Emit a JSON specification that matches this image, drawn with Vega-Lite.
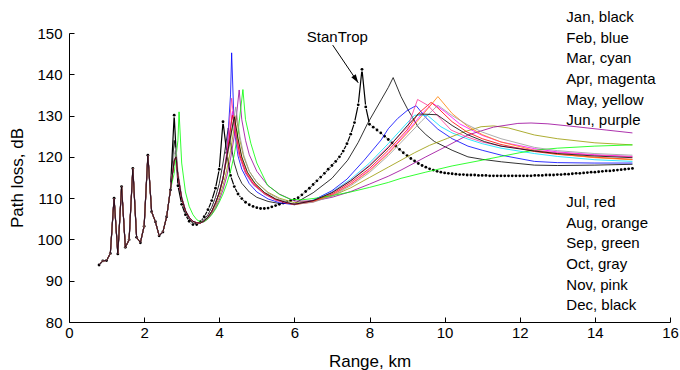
{
"$schema": "https://vega.github.io/schema/vega-lite/v6.json",
"width": 601, "height": 289,
"autosize": "none",
"padding": {"left": 69, "top": 33, "right": 10, "bottom": 48},
"background": "white",
"config": {"view": {"stroke": null}, "font": "Liberation Sans",
 "axis": {"grid": false, "domainColor": "black", "tickColor": "black", "labelColor": "black", "titleColor": "black", "labelFontSize": 15, "titleFontSize": 17, "titleFontWeight": "normal", "labelOverlap": false, "labelFlush": false}},
"datasets": {
"st": [
{"x":0.8,"y":93.8},{"x":0.9,"y":94.8},{"x":1.0,"y":94.9},{"x":1.1,"y":96.6},{"x":1.2,"y":110.0},{"x":1.3,"y":96.5},{"x":1.4,"y":112.8},{"x":1.5,"y":98.1},{"x":1.6,"y":99.9},{"x":1.7,"y":117.2},{"x":1.8,"y":100.5},{"x":1.9,"y":99.2},{"x":2.0,"y":103.2},{"x":2.1,"y":120.4},{"x":2.2,"y":106.7},{"x":2.3,"y":104.3},{"x":2.4,"y":100.9},{"x":2.5,"y":101.8},{"x":2.6,"y":105.5},{"x":2.7,"y":112.0},
{"x":2.8,"y":130.1},{"x":2.9,"y":113.0},{"x":3.0,"y":108.5},{"x":3.1,"y":106.0},{"x":3.2,"y":104.4},{"x":3.3,"y":103.6},{"x":3.4,"y":103.6},{"x":3.5,"y":104.3},{"x":3.6,"y":105.5},{"x":3.7,"y":107.2},{"x":3.8,"y":109.4},{"x":3.9,"y":112.4},{"x":4.0,"y":117.0},{"x":4.1,"y":128.5},{"x":4.2,"y":121.0},{"x":4.3,"y":115.5},{"x":4.4,"y":112.8},{"x":4.5,"y":111.0},{"x":4.6,"y":109.9},{"x":4.7,"y":109.0},{"x":4.8,"y":108.4},{"x":4.9,"y":108.0},{"x":5.0,"y":107.7},{"x":5.1,"y":107.5},{"x":5.2,"y":107.5},{"x":5.3,"y":107.6},{"x":5.4,"y":107.9},{"x":5.5,"y":108.2},{"x":5.6,"y":108.5},{"x":5.7,"y":108.8},{"x":5.8,"y":109.1},{"x":5.9,"y":109.4},{"x":6.0,"y":109.7},{"x":6.1,"y":110.1},{"x":6.2,"y":110.8},{"x":6.3,"y":111.6},{"x":6.4,"y":112.4},{"x":6.5,"y":113.3},{"x":6.6,"y":114.2},{"x":6.7,"y":115.1},{"x":6.8,"y":116.0},{"x":6.9,"y":117.0},{"x":7.0,"y":117.9},{"x":7.1,"y":118.9},{"x":7.2,"y":120.0},{"x":7.3,"y":121.4},{"x":7.4,"y":123.2},{"x":7.5,"y":125.5},{"x":7.6,"y":128.3},{"x":7.7,"y":132.6},{"x":7.8,"y":141.2},{"x":7.9,"y":132.1},{"x":8.0,"y":127.9},{"x":8.1,"y":127.2},{"x":8.2,"y":126.5},{"x":8.3,"y":125.8},{"x":8.4,"y":125.0},{"x":8.5,"y":124.2},{"x":8.6,"y":123.4},{"x":8.7,"y":122.6},{"x":8.8,"y":121.8},{"x":8.9,"y":121.0},{"x":9.0,"y":120.3},{"x":9.1,"y":119.6},{"x":9.2,"y":119.0},{"x":9.3,"y":118.4},{"x":9.4,"y":117.9},{"x":9.5,"y":117.5},{"x":9.6,"y":117.1},{"x":9.7,"y":116.8},{"x":9.8,"y":116.5},{"x":9.9,"y":116.3},{"x":10.0,"y":116.1},{"x":10.1,"y":116.0},{"x":10.2,"y":115.9},{"x":10.3,"y":115.8},{"x":10.4,"y":115.7},{"x":10.5,"y":115.7},{"x":10.6,"y":115.6},{"x":10.7,"y":115.6},{"x":10.8,"y":115.6},{"x":10.9,"y":115.5},{"x":11.0,"y":115.5},{"x":11.1,"y":115.5},{"x":11.2,"y":115.4},{"x":11.3,"y":115.4},{"x":11.4,"y":115.4},{"x":11.5,"y":115.4},{"x":11.6,"y":115.4},{"x":11.7,"y":115.4},{"x":11.8,"y":115.4},{"x":11.9,"y":115.4},{"x":12.0,"y":115.4},{"x":12.1,"y":115.4},{"x":12.2,"y":115.4},{"x":12.3,"y":115.4},{"x":12.4,"y":115.5},{"x":12.5,"y":115.5},{"x":12.6,"y":115.5},{"x":12.7,"y":115.6},{"x":12.8,"y":115.6},{"x":12.9,"y":115.6},{"x":13.0,"y":115.7},{"x":13.1,"y":115.7},{"x":13.2,"y":115.8},{"x":13.3,"y":115.8},{"x":13.4,"y":115.9},{"x":13.5,"y":116.0},{"x":13.6,"y":116.0},{"x":13.7,"y":116.1},{"x":13.8,"y":116.2},{"x":13.9,"y":116.3},{"x":14.0,"y":116.3},{"x":14.1,"y":116.4},{"x":14.2,"y":116.5},{"x":14.3,"y":116.6},{"x":14.4,"y":116.6},{"x":14.5,"y":116.7},{"x":14.6,"y":116.8},{"x":14.7,"y":116.9},{"x":14.8,"y":117.0},{"x":14.9,"y":117.1},{"x":15.0,"y":117.2}
],
"months": [
{"s":"Jan","x":0.8,"y":93.8},{"s":"Jan","x":0.9,"y":94.8},{"s":"Jan","x":1.0,"y":94.9},{"s":"Jan","x":1.1,"y":96.6},{"s":"Jan","x":1.2,"y":110.0},{"s":"Jan","x":1.3,"y":96.5},{"s":"Jan","x":1.4,"y":112.8},{"s":"Jan","x":1.5,"y":98.1},{"s":"Jan","x":1.6,"y":99.9},{"s":"Jan","x":1.7,"y":117.2},{"s":"Jan","x":1.8,"y":100.5},{"s":"Jan","x":1.9,"y":99.2},{"s":"Jan","x":2.0,"y":103.2},{"s":"Jan","x":2.1,"y":120.4},{"s":"Jan","x":2.2,"y":106.7},{"s":"Jan","x":2.3,"y":104.3},{"s":"Jan","x":2.4,"y":100.9},{"s":"Jan","x":2.5,"y":101.8},{"s":"Jan","x":2.6,"y":105.5},{"s":"Jan","x":2.7,"y":112.0},
{"s":"Jan","x":2.8,"y":124.0},{"s":"Jan","x":2.85,"y":121.0},{"s":"Jan","x":2.9,"y":114.5},{"s":"Jan","x":3.0,"y":109.5},{"s":"Jan","x":3.1,"y":106.6},{"s":"Jan","x":3.2,"y":104.9},{"s":"Jan","x":3.3,"y":104.0},{"s":"Jan","x":3.4,"y":103.8},{"s":"Jan","x":3.5,"y":104.1},{"s":"Jan","x":3.6,"y":104.8},{"s":"Jan","x":3.7,"y":106.0},{"s":"Jan","x":3.8,"y":107.8},{"s":"Jan","x":3.9,"y":110.2},{"s":"Jan","x":4.0,"y":113.5},{"s":"Jan","x":4.1,"y":118.5},{"s":"Jan","x":4.24,"y":127.0},{"s":"Jan","x":4.3,"y":123.5},{"s":"Jan","x":4.4,"y":118.5},{"s":"Jan","x":4.5,"y":115.5},{"s":"Jan","x":4.6,"y":113.6},{"s":"Jan","x":4.8,"y":111.5},{"s":"Jan","x":5.0,"y":110.2},{"s":"Jan","x":5.3,"y":109.2},{"s":"Jan","x":5.6,"y":108.7},{"s":"Jan","x":6.0,"y":108.7},{"s":"Jan","x":6.5,"y":111.3},{"s":"Jan","x":7.0,"y":114.8},{"s":"Jan","x":7.42,"y":119.2},{"s":"Jan","x":7.7,"y":123.5},{"s":"Jan","x":7.95,"y":128.1},{"s":"Jan","x":8.31,"y":133.8},{"s":"Jan","x":8.5,"y":136.8},{"s":"Jan","x":8.63,"y":139.2},{"s":"Jan","x":8.84,"y":134.6},{"s":"Jan","x":9.0,"y":131.8},{"s":"Jan","x":9.29,"y":127.3},{"s":"Jan","x":9.5,"y":125.4},{"s":"Jan","x":9.73,"y":123.7},{"s":"Jan","x":10.2,"y":121.6},{"s":"Jan","x":10.62,"y":120.0},{"s":"Jan","x":11.0,"y":119.4},{"s":"Jan","x":11.51,"y":118.8},{"s":"Jan","x":12.39,"y":118.0},{"s":"Jan","x":13.0,"y":117.9},{"s":"Jan","x":14.0,"y":118.0},{"s":"Jan","x":15.0,"y":118.2},
{"s":"Feb","x":0.8,"y":93.8},{"s":"Feb","x":0.9,"y":94.8},{"s":"Feb","x":1.0,"y":94.9},{"s":"Feb","x":1.1,"y":96.6},{"s":"Feb","x":1.2,"y":110.0},{"s":"Feb","x":1.3,"y":96.5},{"s":"Feb","x":1.4,"y":112.8},{"s":"Feb","x":1.5,"y":98.1},{"s":"Feb","x":1.6,"y":99.9},{"s":"Feb","x":1.7,"y":117.2},{"s":"Feb","x":1.8,"y":100.5},{"s":"Feb","x":1.9,"y":99.2},{"s":"Feb","x":2.0,"y":103.2},{"s":"Feb","x":2.1,"y":120.4},{"s":"Feb","x":2.2,"y":106.7},{"s":"Feb","x":2.3,"y":104.3},{"s":"Feb","x":2.4,"y":100.9},{"s":"Feb","x":2.5,"y":101.8},{"s":"Feb","x":2.6,"y":105.5},{"s":"Feb","x":2.7,"y":112.0},
{"s":"Feb","x":2.8,"y":119.0},{"s":"Feb","x":2.85,"y":120.0},{"s":"Feb","x":2.9,"y":115.5},{"s":"Feb","x":3.0,"y":110.0},{"s":"Feb","x":3.1,"y":107.0},{"s":"Feb","x":3.2,"y":105.3},{"s":"Feb","x":3.3,"y":104.4},{"s":"Feb","x":3.4,"y":104.0},{"s":"Feb","x":3.5,"y":104.0},{"s":"Feb","x":3.6,"y":104.5},{"s":"Feb","x":3.7,"y":105.4},{"s":"Feb","x":3.8,"y":106.8},{"s":"Feb","x":3.9,"y":108.8},{"s":"Feb","x":4.0,"y":111.3},{"s":"Feb","x":4.1,"y":114.8},{"s":"Feb","x":4.2,"y":120.5},{"s":"Feb","x":4.3,"y":135.0},{"s":"Feb","x":4.33,"y":145.2},{"s":"Feb","x":4.4,"y":126.5},{"s":"Feb","x":4.5,"y":120.2},{"s":"Feb","x":4.6,"y":117.0},{"s":"Feb","x":4.8,"y":113.5},{"s":"Feb","x":5.0,"y":111.5},{"s":"Feb","x":5.3,"y":109.8},{"s":"Feb","x":5.6,"y":108.9},{"s":"Feb","x":6.0,"y":108.4},{"s":"Feb","x":6.5,"y":109.5},{"s":"Feb","x":7.0,"y":111.8},{"s":"Feb","x":7.4,"y":114.6},{"s":"Feb","x":7.86,"y":119.2},{"s":"Feb","x":8.31,"y":124.1},{"s":"Feb","x":8.5,"y":126.8},{"s":"Feb","x":8.75,"y":129.3},{"s":"Feb","x":9.0,"y":131.2},{"s":"Feb","x":9.24,"y":132.4},{"s":"Feb","x":9.5,"y":129.5},{"s":"Feb","x":9.82,"y":126.7},{"s":"Feb","x":10.2,"y":124.4},{"s":"Feb","x":10.62,"y":122.6},{"s":"Feb","x":11.0,"y":121.6},{"s":"Feb","x":11.51,"y":120.4},{"s":"Feb","x":12.39,"y":118.9},{"s":"Feb","x":13.0,"y":118.6},{"s":"Feb","x":14.0,"y":118.5},{"s":"Feb","x":15.0,"y":118.5},
{"s":"Mar","x":0.8,"y":93.8},{"s":"Mar","x":0.9,"y":94.8},{"s":"Mar","x":1.0,"y":94.9},{"s":"Mar","x":1.1,"y":96.6},{"s":"Mar","x":1.2,"y":110.0},{"s":"Mar","x":1.3,"y":96.5},{"s":"Mar","x":1.4,"y":112.8},{"s":"Mar","x":1.5,"y":98.1},{"s":"Mar","x":1.6,"y":99.9},{"s":"Mar","x":1.7,"y":117.2},{"s":"Mar","x":1.8,"y":100.5},{"s":"Mar","x":1.9,"y":99.2},{"s":"Mar","x":2.0,"y":103.2},{"s":"Mar","x":2.1,"y":120.4},{"s":"Mar","x":2.2,"y":106.7},{"s":"Mar","x":2.3,"y":104.3},{"s":"Mar","x":2.4,"y":100.9},{"s":"Mar","x":2.5,"y":101.8},{"s":"Mar","x":2.6,"y":105.5},{"s":"Mar","x":2.7,"y":112.0},
{"s":"Mar","x":2.8,"y":119.0},{"s":"Mar","x":2.85,"y":120.0},{"s":"Mar","x":2.9,"y":115.5},{"s":"Mar","x":3.0,"y":110.0},{"s":"Mar","x":3.1,"y":107.0},{"s":"Mar","x":3.2,"y":105.3},{"s":"Mar","x":3.3,"y":104.4},{"s":"Mar","x":3.4,"y":104.0},{"s":"Mar","x":3.5,"y":104.0},{"s":"Mar","x":3.6,"y":104.5},{"s":"Mar","x":3.7,"y":105.4},{"s":"Mar","x":3.8,"y":106.8},{"s":"Mar","x":3.9,"y":108.8},{"s":"Mar","x":4.0,"y":111.3},{"s":"Mar","x":4.1,"y":114.8},{"s":"Mar","x":4.2,"y":120.0},{"s":"Mar","x":4.35,"y":130.5},{"s":"Mar","x":4.45,"y":125.0},{"s":"Mar","x":4.55,"y":120.0},{"s":"Mar","x":4.7,"y":116.0},{"s":"Mar","x":4.9,"y":113.3},{"s":"Mar","x":5.2,"y":111.0},{"s":"Mar","x":5.5,"y":109.6},{"s":"Mar","x":5.8,"y":108.9},{"s":"Mar","x":6.0,"y":108.6},{"s":"Mar","x":6.5,"y":109.5},{"s":"Mar","x":7.0,"y":111.5},{"s":"Mar","x":7.5,"y":114.6},{"s":"Mar","x":8.0,"y":118.5},{"s":"Mar","x":8.5,"y":123.2},{"s":"Mar","x":9.0,"y":128.2},{"s":"Mar","x":9.2,"y":130.1},{"s":"Mar","x":9.55,"y":130.0},{"s":"Mar","x":9.9,"y":127.3},{"s":"Mar","x":10.2,"y":125.8},{"s":"Mar","x":10.62,"y":124.3},{"s":"Mar","x":11.0,"y":123.2},{"s":"Mar","x":11.5,"y":122.1},{"s":"Mar","x":12.39,"y":120.8},{"s":"Mar","x":13.0,"y":120.1},{"s":"Mar","x":14.0,"y":119.3},{"s":"Mar","x":15.0,"y":118.9},
{"s":"Apr","x":0.8,"y":93.8},{"s":"Apr","x":0.9,"y":94.8},{"s":"Apr","x":1.0,"y":94.9},{"s":"Apr","x":1.1,"y":96.6},{"s":"Apr","x":1.2,"y":110.0},{"s":"Apr","x":1.3,"y":96.5},{"s":"Apr","x":1.4,"y":112.8},{"s":"Apr","x":1.5,"y":98.1},{"s":"Apr","x":1.6,"y":99.9},{"s":"Apr","x":1.7,"y":117.2},{"s":"Apr","x":1.8,"y":100.5},{"s":"Apr","x":1.9,"y":99.2},{"s":"Apr","x":2.0,"y":103.2},{"s":"Apr","x":2.1,"y":120.4},{"s":"Apr","x":2.2,"y":106.7},{"s":"Apr","x":2.3,"y":104.3},{"s":"Apr","x":2.4,"y":100.9},{"s":"Apr","x":2.5,"y":101.8},{"s":"Apr","x":2.6,"y":105.5},{"s":"Apr","x":2.7,"y":112.0},
{"s":"Apr","x":2.8,"y":119.0},{"s":"Apr","x":2.85,"y":120.0},{"s":"Apr","x":2.9,"y":115.5},{"s":"Apr","x":3.0,"y":110.0},{"s":"Apr","x":3.1,"y":107.0},{"s":"Apr","x":3.2,"y":105.3},{"s":"Apr","x":3.3,"y":104.4},{"s":"Apr","x":3.4,"y":104.0},{"s":"Apr","x":3.5,"y":104.0},{"s":"Apr","x":3.6,"y":104.5},{"s":"Apr","x":3.7,"y":105.4},{"s":"Apr","x":3.8,"y":106.8},{"s":"Apr","x":3.9,"y":108.8},{"s":"Apr","x":4.0,"y":111.3},{"s":"Apr","x":4.1,"y":114.8},{"s":"Apr","x":4.2,"y":120.0},{"s":"Apr","x":4.35,"y":131.0},{"s":"Apr","x":4.45,"y":125.5},{"s":"Apr","x":4.55,"y":120.5},{"s":"Apr","x":4.7,"y":116.5},{"s":"Apr","x":4.9,"y":113.6},{"s":"Apr","x":5.2,"y":111.2},{"s":"Apr","x":5.5,"y":109.7},{"s":"Apr","x":5.8,"y":108.9},{"s":"Apr","x":6.0,"y":108.5},{"s":"Apr","x":6.5,"y":109.1},{"s":"Apr","x":7.0,"y":110.8},{"s":"Apr","x":7.5,"y":113.4},{"s":"Apr","x":8.0,"y":116.8},{"s":"Apr","x":8.5,"y":121.0},{"s":"Apr","x":9.0,"y":126.0},{"s":"Apr","x":9.4,"y":130.5},{"s":"Apr","x":9.68,"y":133.0},{"s":"Apr","x":10.0,"y":131.0},{"s":"Apr","x":10.4,"y":128.0},{"s":"Apr","x":11.0,"y":125.2},{"s":"Apr","x":11.5,"y":123.6},{"s":"Apr","x":12.39,"y":122.0},{"s":"Apr","x":13.0,"y":121.2},{"s":"Apr","x":14.0,"y":120.5},{"s":"Apr","x":15.0,"y":120.1},
{"s":"May","x":0.8,"y":93.8},{"s":"May","x":0.9,"y":94.8},{"s":"May","x":1.0,"y":94.9},{"s":"May","x":1.1,"y":96.6},{"s":"May","x":1.2,"y":110.0},{"s":"May","x":1.3,"y":96.5},{"s":"May","x":1.4,"y":112.8},{"s":"May","x":1.5,"y":98.1},{"s":"May","x":1.6,"y":99.9},{"s":"May","x":1.7,"y":117.2},{"s":"May","x":1.8,"y":100.5},{"s":"May","x":1.9,"y":99.2},{"s":"May","x":2.0,"y":103.2},{"s":"May","x":2.1,"y":120.4},{"s":"May","x":2.2,"y":106.7},{"s":"May","x":2.3,"y":104.3},{"s":"May","x":2.4,"y":100.9},{"s":"May","x":2.5,"y":101.8},{"s":"May","x":2.6,"y":105.5},{"s":"May","x":2.7,"y":112.0},
{"s":"May","x":2.8,"y":119.0},{"s":"May","x":2.85,"y":120.0},{"s":"May","x":2.9,"y":115.5},{"s":"May","x":3.0,"y":110.0},{"s":"May","x":3.1,"y":107.0},{"s":"May","x":3.2,"y":105.3},{"s":"May","x":3.3,"y":104.4},{"s":"May","x":3.4,"y":104.0},{"s":"May","x":3.5,"y":104.0},{"s":"May","x":3.6,"y":104.4},{"s":"May","x":3.7,"y":105.2},{"s":"May","x":3.8,"y":106.4},{"s":"May","x":3.9,"y":108.1},{"s":"May","x":4.0,"y":110.2},{"s":"May","x":4.1,"y":113.0},{"s":"May","x":4.2,"y":116.8},{"s":"May","x":4.3,"y":121.5},{"s":"May","x":4.45,"y":130.0},{"s":"May","x":4.55,"y":124.0},{"s":"May","x":4.65,"y":120.0},{"s":"May","x":4.8,"y":116.5},{"s":"May","x":5.0,"y":113.8},{"s":"May","x":5.3,"y":111.4},{"s":"May","x":5.6,"y":110.0},{"s":"May","x":6.0,"y":108.9},{"s":"May","x":6.5,"y":109.4},{"s":"May","x":7.0,"y":110.5},{"s":"May","x":7.5,"y":112.5},{"s":"May","x":8.0,"y":115.0},{"s":"May","x":8.5,"y":117.5},{"s":"May","x":8.84,"y":119.2},{"s":"May","x":9.2,"y":121.0},{"s":"May","x":9.6,"y":122.8},{"s":"May","x":10.08,"y":124.5},{"s":"May","x":10.5,"y":126.0},{"s":"May","x":10.97,"y":127.3},{"s":"May","x":11.3,"y":127.5},{"s":"May","x":11.7,"y":127.0},{"s":"May","x":12.39,"y":125.3},{"s":"May","x":13.0,"y":124.4},{"s":"May","x":14.0,"y":123.4},{"s":"May","x":15.0,"y":122.9},
{"s":"Jun","x":0.8,"y":93.8},{"s":"Jun","x":0.9,"y":94.8},{"s":"Jun","x":1.0,"y":94.9},{"s":"Jun","x":1.1,"y":96.6},{"s":"Jun","x":1.2,"y":110.0},{"s":"Jun","x":1.3,"y":96.5},{"s":"Jun","x":1.4,"y":112.8},{"s":"Jun","x":1.5,"y":98.1},{"s":"Jun","x":1.6,"y":99.9},{"s":"Jun","x":1.7,"y":117.2},{"s":"Jun","x":1.8,"y":100.5},{"s":"Jun","x":1.9,"y":99.2},{"s":"Jun","x":2.0,"y":103.2},{"s":"Jun","x":2.1,"y":120.4},{"s":"Jun","x":2.2,"y":106.7},{"s":"Jun","x":2.3,"y":104.3},{"s":"Jun","x":2.4,"y":100.9},{"s":"Jun","x":2.5,"y":101.8},{"s":"Jun","x":2.6,"y":105.5},{"s":"Jun","x":2.7,"y":112.0},
{"s":"Jun","x":2.8,"y":119.0},{"s":"Jun","x":2.85,"y":120.0},{"s":"Jun","x":2.9,"y":115.5},{"s":"Jun","x":3.0,"y":110.0},{"s":"Jun","x":3.1,"y":107.0},{"s":"Jun","x":3.2,"y":105.3},{"s":"Jun","x":3.3,"y":104.4},{"s":"Jun","x":3.4,"y":104.0},{"s":"Jun","x":3.5,"y":104.0},{"s":"Jun","x":3.6,"y":104.3},{"s":"Jun","x":3.7,"y":105.0},{"s":"Jun","x":3.8,"y":106.1},{"s":"Jun","x":3.9,"y":107.6},{"s":"Jun","x":4.0,"y":109.5},{"s":"Jun","x":4.1,"y":112.0},{"s":"Jun","x":4.2,"y":115.3},{"s":"Jun","x":4.3,"y":119.5},{"s":"Jun","x":4.4,"y":125.0},{"s":"Jun","x":4.53,"y":136.2},{"s":"Jun","x":4.6,"y":129.0},{"s":"Jun","x":4.7,"y":124.0},{"s":"Jun","x":4.8,"y":120.5},{"s":"Jun","x":5.0,"y":116.5},{"s":"Jun","x":5.3,"y":113.0},{"s":"Jun","x":5.6,"y":111.0},{"s":"Jun","x":6.0,"y":109.3},{"s":"Jun","x":6.5,"y":109.3},{"s":"Jun","x":7.0,"y":110.2},{"s":"Jun","x":7.5,"y":111.6},{"s":"Jun","x":8.0,"y":113.4},{"s":"Jun","x":8.5,"y":115.3},{"s":"Jun","x":8.84,"y":116.8},{"s":"Jun","x":9.5,"y":120.0},{"s":"Jun","x":10.08,"y":122.7},{"s":"Jun","x":10.62,"y":125.3},{"s":"Jun","x":11.3,"y":127.2},{"s":"Jun","x":11.95,"y":128.1},{"s":"Jun","x":12.3,"y":128.2},{"s":"Jun","x":12.75,"y":128.0},{"s":"Jun","x":13.5,"y":127.3},{"s":"Jun","x":14.3,"y":126.5},{"s":"Jun","x":15.0,"y":125.8},
{"s":"Jul","x":0.8,"y":93.8},{"s":"Jul","x":0.9,"y":94.8},{"s":"Jul","x":1.0,"y":94.9},{"s":"Jul","x":1.1,"y":96.6},{"s":"Jul","x":1.2,"y":110.0},{"s":"Jul","x":1.3,"y":96.5},{"s":"Jul","x":1.4,"y":112.8},{"s":"Jul","x":1.5,"y":98.1},{"s":"Jul","x":1.6,"y":99.9},{"s":"Jul","x":1.7,"y":117.2},{"s":"Jul","x":1.8,"y":100.5},{"s":"Jul","x":1.9,"y":99.2},{"s":"Jul","x":2.0,"y":103.2},{"s":"Jul","x":2.1,"y":120.4},{"s":"Jul","x":2.2,"y":106.7},{"s":"Jul","x":2.3,"y":104.3},{"s":"Jul","x":2.4,"y":100.9},{"s":"Jul","x":2.5,"y":101.8},{"s":"Jul","x":2.6,"y":105.5},{"s":"Jul","x":2.7,"y":112.0},
{"s":"Jul","x":2.8,"y":119.0},{"s":"Jul","x":2.85,"y":120.0},{"s":"Jul","x":2.9,"y":115.5},{"s":"Jul","x":3.0,"y":110.0},{"s":"Jul","x":3.1,"y":107.0},{"s":"Jul","x":3.2,"y":105.3},{"s":"Jul","x":3.3,"y":104.4},{"s":"Jul","x":3.4,"y":104.0},{"s":"Jul","x":3.5,"y":104.0},{"s":"Jul","x":3.6,"y":104.5},{"s":"Jul","x":3.7,"y":105.4},{"s":"Jul","x":3.8,"y":106.8},{"s":"Jul","x":3.9,"y":108.8},{"s":"Jul","x":4.0,"y":111.3},{"s":"Jul","x":4.1,"y":114.8},{"s":"Jul","x":4.2,"y":120.0},{"s":"Jul","x":4.35,"y":130.1},{"s":"Jul","x":4.45,"y":125.0},{"s":"Jul","x":4.55,"y":120.3},{"s":"Jul","x":4.7,"y":116.3},{"s":"Jul","x":4.9,"y":113.5},{"s":"Jul","x":5.2,"y":111.1},{"s":"Jul","x":5.5,"y":109.6},{"s":"Jul","x":5.8,"y":108.8},{"s":"Jul","x":6.0,"y":108.5},{"s":"Jul","x":6.5,"y":109.3},{"s":"Jul","x":7.0,"y":111.0},{"s":"Jul","x":7.5,"y":113.8},{"s":"Jul","x":8.0,"y":117.2},{"s":"Jul","x":8.5,"y":121.6},{"s":"Jul","x":9.0,"y":126.5},{"s":"Jul","x":9.3,"y":130.5},{"s":"Jul","x":9.64,"y":133.2},{"s":"Jul","x":9.8,"y":132.0},{"s":"Jul","x":10.2,"y":128.5},{"s":"Jul","x":10.6,"y":126.0},{"s":"Jul","x":11.0,"y":124.4},{"s":"Jul","x":11.5,"y":123.0},{"s":"Jul","x":12.39,"y":121.3},{"s":"Jul","x":13.0,"y":120.6},{"s":"Jul","x":14.0,"y":119.9},{"s":"Jul","x":15.0,"y":119.4},
{"s":"Aug","x":0.8,"y":93.8},{"s":"Aug","x":0.9,"y":94.8},{"s":"Aug","x":1.0,"y":94.9},{"s":"Aug","x":1.1,"y":96.6},{"s":"Aug","x":1.2,"y":110.0},{"s":"Aug","x":1.3,"y":96.5},{"s":"Aug","x":1.4,"y":112.8},{"s":"Aug","x":1.5,"y":98.1},{"s":"Aug","x":1.6,"y":99.9},{"s":"Aug","x":1.7,"y":117.2},{"s":"Aug","x":1.8,"y":100.5},{"s":"Aug","x":1.9,"y":99.2},{"s":"Aug","x":2.0,"y":103.2},{"s":"Aug","x":2.1,"y":120.4},{"s":"Aug","x":2.2,"y":106.7},{"s":"Aug","x":2.3,"y":104.3},{"s":"Aug","x":2.4,"y":100.9},{"s":"Aug","x":2.5,"y":101.8},{"s":"Aug","x":2.6,"y":105.5},{"s":"Aug","x":2.7,"y":112.0},
{"s":"Aug","x":2.8,"y":119.0},{"s":"Aug","x":2.85,"y":120.0},{"s":"Aug","x":2.9,"y":115.5},{"s":"Aug","x":3.0,"y":110.0},{"s":"Aug","x":3.1,"y":107.0},{"s":"Aug","x":3.2,"y":105.3},{"s":"Aug","x":3.3,"y":104.4},{"s":"Aug","x":3.4,"y":104.0},{"s":"Aug","x":3.5,"y":104.0},{"s":"Aug","x":3.6,"y":104.5},{"s":"Aug","x":3.7,"y":105.4},{"s":"Aug","x":3.8,"y":106.8},{"s":"Aug","x":3.9,"y":108.8},{"s":"Aug","x":4.0,"y":111.3},{"s":"Aug","x":4.1,"y":114.8},{"s":"Aug","x":4.2,"y":119.5},{"s":"Aug","x":4.4,"y":130.0},{"s":"Aug","x":4.5,"y":124.0},{"s":"Aug","x":4.6,"y":119.5},{"s":"Aug","x":4.75,"y":116.0},{"s":"Aug","x":4.95,"y":113.4},{"s":"Aug","x":5.2,"y":111.3},{"s":"Aug","x":5.5,"y":109.8},{"s":"Aug","x":5.8,"y":108.9},{"s":"Aug","x":6.0,"y":108.4},{"s":"Aug","x":6.5,"y":109.1},{"s":"Aug","x":7.0,"y":110.7},{"s":"Aug","x":7.5,"y":113.3},{"s":"Aug","x":8.0,"y":116.6},{"s":"Aug","x":8.5,"y":120.8},{"s":"Aug","x":9.0,"y":125.7},{"s":"Aug","x":9.4,"y":130.0},{"s":"Aug","x":9.82,"y":134.6},{"s":"Aug","x":10.2,"y":130.5},{"s":"Aug","x":10.6,"y":127.5},{"s":"Aug","x":11.0,"y":125.4},{"s":"Aug","x":11.5,"y":123.6},{"s":"Aug","x":12.39,"y":121.6},{"s":"Aug","x":13.0,"y":120.7},{"s":"Aug","x":14.0,"y":119.8},{"s":"Aug","x":15.0,"y":119.3},
{"s":"Sep","x":0.8,"y":93.8},{"s":"Sep","x":0.9,"y":94.8},{"s":"Sep","x":1.0,"y":94.9},{"s":"Sep","x":1.1,"y":96.6},{"s":"Sep","x":1.2,"y":110.0},{"s":"Sep","x":1.3,"y":96.5},{"s":"Sep","x":1.4,"y":112.8},{"s":"Sep","x":1.5,"y":98.1},{"s":"Sep","x":1.6,"y":99.9},{"s":"Sep","x":1.7,"y":117.2},{"s":"Sep","x":1.8,"y":100.5},{"s":"Sep","x":1.9,"y":99.2},{"s":"Sep","x":2.0,"y":103.2},{"s":"Sep","x":2.1,"y":120.4},{"s":"Sep","x":2.2,"y":106.7},{"s":"Sep","x":2.3,"y":104.3},{"s":"Sep","x":2.4,"y":100.9},{"s":"Sep","x":2.5,"y":101.8},{"s":"Sep","x":2.6,"y":105.5},{"s":"Sep","x":2.7,"y":112.0},
{"s":"Sep","x":2.8,"y":116.0},{"s":"Sep","x":2.9,"y":124.0},{"s":"Sep","x":2.93,"y":130.9},{"s":"Sep","x":3.0,"y":118.5},{"s":"Sep","x":3.1,"y":111.5},{"s":"Sep","x":3.2,"y":108.0},{"s":"Sep","x":3.3,"y":106.0},{"s":"Sep","x":3.4,"y":104.8},{"s":"Sep","x":3.5,"y":104.2},{"s":"Sep","x":3.6,"y":104.3},{"s":"Sep","x":3.7,"y":105.0},{"s":"Sep","x":3.8,"y":106.0},{"s":"Sep","x":3.9,"y":107.3},{"s":"Sep","x":4.0,"y":109.0},{"s":"Sep","x":4.1,"y":111.0},{"s":"Sep","x":4.2,"y":113.5},{"s":"Sep","x":4.3,"y":116.5},{"s":"Sep","x":4.4,"y":120.5},{"s":"Sep","x":4.5,"y":126.0},{"s":"Sep","x":4.63,"y":136.3},{"s":"Sep","x":4.7,"y":129.0},{"s":"Sep","x":4.84,"y":123.3},{"s":"Sep","x":5.0,"y":118.5},{"s":"Sep","x":5.28,"y":113.2},{"s":"Sep","x":5.6,"y":110.9},{"s":"Sep","x":5.9,"y":109.7},{"s":"Sep","x":6.2,"y":109.6},{"s":"Sep","x":6.5,"y":109.9},{"s":"Sep","x":7.0,"y":110.6},{"s":"Sep","x":7.5,"y":111.5},{"s":"Sep","x":8.0,"y":112.6},{"s":"Sep","x":8.5,"y":113.8},{"s":"Sep","x":8.84,"y":114.8},{"s":"Sep","x":9.5,"y":116.3},{"s":"Sep","x":10.2,"y":117.8},{"s":"Sep","x":11.0,"y":119.2},{"s":"Sep","x":12.0,"y":121.0},{"s":"Sep","x":12.39,"y":121.6},{"s":"Sep","x":13.0,"y":122.1},{"s":"Sep","x":14.0,"y":122.6},{"s":"Sep","x":15.0,"y":122.9},
{"s":"Oct","x":0.8,"y":93.8},{"s":"Oct","x":0.9,"y":94.8},{"s":"Oct","x":1.0,"y":94.9},{"s":"Oct","x":1.1,"y":96.6},{"s":"Oct","x":1.2,"y":110.0},{"s":"Oct","x":1.3,"y":96.5},{"s":"Oct","x":1.4,"y":112.8},{"s":"Oct","x":1.5,"y":98.1},{"s":"Oct","x":1.6,"y":99.9},{"s":"Oct","x":1.7,"y":117.2},{"s":"Oct","x":1.8,"y":100.5},{"s":"Oct","x":1.9,"y":99.2},{"s":"Oct","x":2.0,"y":103.2},{"s":"Oct","x":2.1,"y":120.4},{"s":"Oct","x":2.2,"y":106.7},{"s":"Oct","x":2.3,"y":104.3},{"s":"Oct","x":2.4,"y":100.9},{"s":"Oct","x":2.5,"y":101.8},{"s":"Oct","x":2.6,"y":105.5},{"s":"Oct","x":2.7,"y":112.0},
{"s":"Oct","x":2.8,"y":120.5},{"s":"Oct","x":2.85,"y":122.3},{"s":"Oct","x":2.9,"y":116.5},{"s":"Oct","x":3.0,"y":110.5},{"s":"Oct","x":3.1,"y":107.2},{"s":"Oct","x":3.2,"y":105.4},{"s":"Oct","x":3.3,"y":104.4},{"s":"Oct","x":3.4,"y":104.0},{"s":"Oct","x":3.5,"y":104.0},{"s":"Oct","x":3.6,"y":104.5},{"s":"Oct","x":3.7,"y":105.4},{"s":"Oct","x":3.8,"y":106.8},{"s":"Oct","x":3.9,"y":108.8},{"s":"Oct","x":4.0,"y":111.3},{"s":"Oct","x":4.1,"y":114.8},{"s":"Oct","x":4.2,"y":119.5},{"s":"Oct","x":4.3,"y":124.0},{"s":"Oct","x":4.44,"y":132.1},{"s":"Oct","x":4.55,"y":125.0},{"s":"Oct","x":4.65,"y":120.5},{"s":"Oct","x":4.8,"y":116.5},{"s":"Oct","x":5.0,"y":113.8},{"s":"Oct","x":5.3,"y":111.2},{"s":"Oct","x":5.6,"y":109.8},{"s":"Oct","x":6.0,"y":108.5},{"s":"Oct","x":6.5,"y":109.0},{"s":"Oct","x":7.0,"y":110.5},{"s":"Oct","x":7.5,"y":113.0},{"s":"Oct","x":8.0,"y":116.2},{"s":"Oct","x":8.5,"y":120.3},{"s":"Oct","x":9.0,"y":125.0},{"s":"Oct","x":9.4,"y":128.8},{"s":"Oct","x":9.82,"y":132.5},{"s":"Oct","x":10.2,"y":130.0},{"s":"Oct","x":10.6,"y":127.8},{"s":"Oct","x":11.0,"y":126.0},{"s":"Oct","x":11.5,"y":124.4},{"s":"Oct","x":12.39,"y":122.3},{"s":"Oct","x":13.0,"y":121.5},{"s":"Oct","x":14.0,"y":120.8},{"s":"Oct","x":15.0,"y":120.4},
{"s":"Nov","x":0.8,"y":93.8},{"s":"Nov","x":0.9,"y":94.8},{"s":"Nov","x":1.0,"y":94.9},{"s":"Nov","x":1.1,"y":96.6},{"s":"Nov","x":1.2,"y":110.0},{"s":"Nov","x":1.3,"y":96.5},{"s":"Nov","x":1.4,"y":112.8},{"s":"Nov","x":1.5,"y":98.1},{"s":"Nov","x":1.6,"y":99.9},{"s":"Nov","x":1.7,"y":117.2},{"s":"Nov","x":1.8,"y":100.5},{"s":"Nov","x":1.9,"y":99.2},{"s":"Nov","x":2.0,"y":103.2},{"s":"Nov","x":2.1,"y":120.4},{"s":"Nov","x":2.2,"y":106.7},{"s":"Nov","x":2.3,"y":104.3},{"s":"Nov","x":2.4,"y":100.9},{"s":"Nov","x":2.5,"y":101.8},{"s":"Nov","x":2.6,"y":105.5},{"s":"Nov","x":2.7,"y":112.0},
{"s":"Nov","x":2.8,"y":119.0},{"s":"Nov","x":2.85,"y":120.0},{"s":"Nov","x":2.9,"y":115.5},{"s":"Nov","x":3.0,"y":110.0},{"s":"Nov","x":3.1,"y":107.0},{"s":"Nov","x":3.2,"y":105.3},{"s":"Nov","x":3.3,"y":104.4},{"s":"Nov","x":3.4,"y":104.0},{"s":"Nov","x":3.5,"y":104.0},{"s":"Nov","x":3.6,"y":104.5},{"s":"Nov","x":3.7,"y":105.4},{"s":"Nov","x":3.8,"y":106.8},{"s":"Nov","x":3.9,"y":108.8},{"s":"Nov","x":4.0,"y":111.3},{"s":"Nov","x":4.1,"y":114.8},{"s":"Nov","x":4.2,"y":121.0},{"s":"Nov","x":4.33,"y":134.2},{"s":"Nov","x":4.42,"y":126.0},{"s":"Nov","x":4.52,"y":120.5},{"s":"Nov","x":4.7,"y":116.0},{"s":"Nov","x":4.9,"y":113.3},{"s":"Nov","x":5.2,"y":111.0},{"s":"Nov","x":5.5,"y":109.5},{"s":"Nov","x":5.8,"y":108.8},{"s":"Nov","x":6.0,"y":108.5},{"s":"Nov","x":6.5,"y":109.4},{"s":"Nov","x":7.0,"y":111.4},{"s":"Nov","x":7.5,"y":114.3},{"s":"Nov","x":8.0,"y":118.0},{"s":"Nov","x":8.5,"y":122.5},{"s":"Nov","x":9.02,"y":127.3},{"s":"Nov","x":9.28,"y":133.9},{"s":"Nov","x":9.55,"y":132.5},{"s":"Nov","x":10.17,"y":126.5},{"s":"Nov","x":10.6,"y":124.8},{"s":"Nov","x":11.0,"y":123.6},{"s":"Nov","x":11.5,"y":122.6},{"s":"Nov","x":12.39,"y":121.6},{"s":"Nov","x":13.0,"y":121.0},{"s":"Nov","x":14.0,"y":120.4},{"s":"Nov","x":15.0,"y":120.0},
{"s":"Dec","x":0.8,"y":93.8},{"s":"Dec","x":0.9,"y":94.8},{"s":"Dec","x":1.0,"y":94.9},{"s":"Dec","x":1.1,"y":96.6},{"s":"Dec","x":1.2,"y":110.0},{"s":"Dec","x":1.3,"y":96.5},{"s":"Dec","x":1.4,"y":112.8},{"s":"Dec","x":1.5,"y":98.1},{"s":"Dec","x":1.6,"y":99.9},{"s":"Dec","x":1.7,"y":117.2},{"s":"Dec","x":1.8,"y":100.5},{"s":"Dec","x":1.9,"y":99.2},{"s":"Dec","x":2.0,"y":103.2},{"s":"Dec","x":2.1,"y":120.4},{"s":"Dec","x":2.2,"y":106.7},{"s":"Dec","x":2.3,"y":104.3},{"s":"Dec","x":2.4,"y":100.9},{"s":"Dec","x":2.5,"y":101.8},{"s":"Dec","x":2.6,"y":105.5},{"s":"Dec","x":2.7,"y":112.0},
{"s":"Dec","x":2.8,"y":119.0},{"s":"Dec","x":2.85,"y":120.0},{"s":"Dec","x":2.9,"y":115.5},{"s":"Dec","x":3.0,"y":110.0},{"s":"Dec","x":3.1,"y":107.0},{"s":"Dec","x":3.2,"y":105.3},{"s":"Dec","x":3.3,"y":104.4},{"s":"Dec","x":3.4,"y":104.0},{"s":"Dec","x":3.5,"y":104.0},{"s":"Dec","x":3.6,"y":104.5},{"s":"Dec","x":3.7,"y":105.4},{"s":"Dec","x":3.8,"y":106.8},{"s":"Dec","x":3.9,"y":108.8},{"s":"Dec","x":4.0,"y":111.3},{"s":"Dec","x":4.1,"y":114.8},{"s":"Dec","x":4.2,"y":120.0},{"s":"Dec","x":4.4,"y":129.7},{"s":"Dec","x":4.5,"y":124.5},{"s":"Dec","x":4.6,"y":120.0},{"s":"Dec","x":4.75,"y":116.3},{"s":"Dec","x":4.95,"y":113.6},{"s":"Dec","x":5.2,"y":111.4},{"s":"Dec","x":5.5,"y":109.8},{"s":"Dec","x":5.8,"y":108.9},{"s":"Dec","x":6.0,"y":108.5},{"s":"Dec","x":6.5,"y":109.4},{"s":"Dec","x":7.0,"y":111.3},{"s":"Dec","x":7.5,"y":114.2},{"s":"Dec","x":8.0,"y":117.8},{"s":"Dec","x":8.5,"y":122.2},{"s":"Dec","x":9.0,"y":127.5},{"s":"Dec","x":9.3,"y":130.4},{"s":"Dec","x":9.8,"y":130.2},{"s":"Dec","x":10.2,"y":127.6},{"s":"Dec","x":10.6,"y":125.4},{"s":"Dec","x":11.06,"y":123.7},{"s":"Dec","x":11.5,"y":122.6},{"s":"Dec","x":12.39,"y":121.4},{"s":"Dec","x":13.0,"y":120.8},{"s":"Dec","x":14.0,"y":120.2},{"s":"Dec","x":15.0,"y":119.8}
],
"notes": [
{"t":"Jan, black","x":13.24,"y":153.85},{"t":"Feb, blue","x":13.24,"y":148.77},{"t":"Mar, cyan","x":13.24,"y":143.92},{"t":"Apr, magenta","x":13.24,"y":138.84},{"t":"May, yellow","x":13.24,"y":133.75},{"t":"Jun, purple","x":13.24,"y":128.91},
{"t":"Jul, red","x":13.24,"y":109.06},{"t":"Aug, orange","x":13.24,"y":103.97},{"t":"Sep, green","x":13.24,"y":99.13},{"t":"Oct, gray","x":13.24,"y":94.04},{"t":"Nov, pink","x":13.24,"y":88.96},{"t":"Dec, black","x":13.24,"y":84.12},
{"t":"StanTrop","x":6.33,"y":149.0}
],
"arrow": [{"x":7.02,"y":147.07,"x2":7.70,"y2":137.94}]
},
"layer": [
{"data":{"name":"st"},"mark":{"type":"line","color":"black","strokeWidth":1.2},
 "encoding":{
  "x":{"field":"x","type":"quantitative","scale":{"domain":[0,16],"nice":false},
   "axis":{"title":"Range, km","values":[0,1,2,3,4,5,6,7,8,9,10,11,12,13,14,15,16],"labelExpr":"datum.value % 2 === 0 ? datum.label : ''","tickSize":-5,"labelPadding":8,"titlePadding":13}},
  "y":{"field":"y","type":"quantitative","scale":{"domain":[80,150],"nice":false},
   "axis":{"title":"Path loss, dB","values":[80,85,90,95,100,105,110,115,120,125,130,135,140,145,150],"labelExpr":"datum.value % 10 === 0 ? datum.label : ''","tickSize":-5,"labelPadding":12,"titlePadding":10}}}},
{"data":{"name":"st"},"mark":{"type":"point","shape":"circle","filled":true,"color":"white","opacity":1,"size":22},
 "encoding":{"x":{"field":"x","type":"quantitative"},"y":{"field":"y","type":"quantitative"}}},
{"data":{"name":"st"},"mark":{"type":"point","shape":"circle","filled":true,"color":"black","opacity":1,"size":8},
 "encoding":{"x":{"field":"x","type":"quantitative"},"y":{"field":"y","type":"quantitative"}}},
{"data":{"name":"months"},"mark":{"type":"line","strokeWidth":1,"strokeOpacity":0.8},
 "encoding":{"x":{"field":"x","type":"quantitative"},"y":{"field":"y","type":"quantitative"},
  "color":{"field":"s","type":"nominal","legend":null,
   "scale":{"domain":["Jan","Feb","Mar","Apr","May","Jun","Jul","Aug","Sep","Oct","Nov","Dec"],
    "range":["#000000","#0000ff","#00e0ff","#ff00ff","#999900","#990099","#ff0000","#ff8000","#00ff00","#999999","#ff3399","#000000"]}}}},
{"data":{"name":"notes"},"mark":{"type":"text","align":"left","baseline":"middle","fontSize":15,"color":"black","font":"Liberation Sans"},
 "encoding":{"x":{"field":"x","type":"quantitative"},"y":{"field":"y","type":"quantitative"},"text":{"field":"t"}}},
{"data":{"name":"arrow"},"mark":{"type":"rule","color":"black","strokeWidth":1},
 "encoding":{"x":{"field":"x","type":"quantitative"},"y":{"field":"y","type":"quantitative"},"x2":{"field":"x2"},"y2":{"field":"y2"}}},
{"data":{"name":"arrow"},"mark":{"type":"point","shape":"M0,0L-0.32,-1L0.32,-1Z","filled":true,"color":"black","opacity":1,"size":280,"angle":326},
 "encoding":{"x":{"field":"x2","type":"quantitative"},"y":{"field":"y2","type":"quantitative"}}}
]
}
